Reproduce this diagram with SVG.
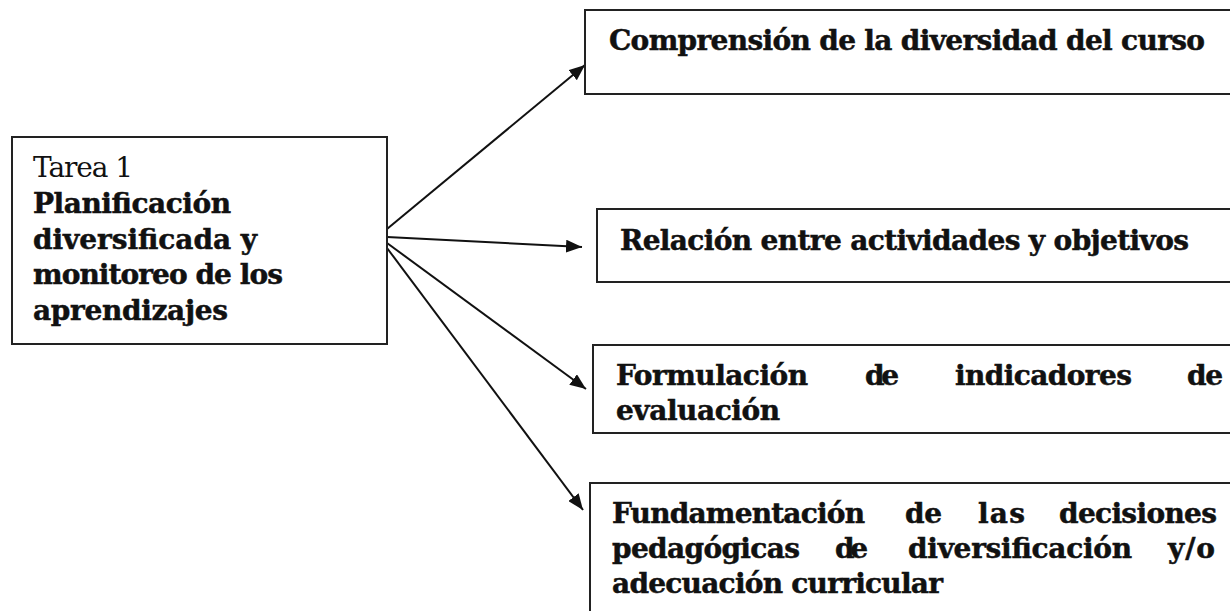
<svg xmlns="http://www.w3.org/2000/svg" width="1230" height="611" viewBox="0 0 1230 611">
<defs>
<style>
.box{fill:#fff;stroke:#222;stroke-width:2}
.t{font-family:"DejaVu Serif","Liberation Serif",serif;font-size:28px;fill:#111}
.b{font-weight:bold;stroke:#111;stroke-width:0.5}
.c{stroke:#111;stroke-width:2;fill:none}
</style>
<marker id="ah" markerUnits="userSpaceOnUse" markerWidth="16" markerHeight="13" refX="16" refY="6.5" orient="auto" viewBox="0 0 16 13">
<path d="M0,0 L16,6.5 L0,13 z" fill="#111"/>
</marker>
</defs>
<rect width="1230" height="611" fill="#fff"/>
<g id="connectors">
<line class="c" x1="387" y1="229" x2="585" y2="65" marker-end="url(#ah)"/>
<line class="c" x1="387" y1="237" x2="582" y2="247" marker-end="url(#ah)"/>
<line class="c" x1="387" y1="243" x2="586" y2="389" marker-end="url(#ah)"/>
<line class="c" x1="387" y1="248" x2="583" y2="510" marker-end="url(#ah)"/>
</g>
<g id="tarea1">
<rect class="box" x="12" y="137" width="375" height="207"/>
<text class="t" x="33" y="177" textLength="100">Tarea 1</text>
<text class="t b" x="33" y="213" textLength="198">Planificación</text>
<text class="t b" x="33" y="249" textLength="224">diversificada y</text>
<text class="t b" x="33" y="284" textLength="250">monitoreo de los</text>
<text class="t b" x="33" y="320" textLength="195">aprendizajes</text>
</g>
<g id="comprension">
<rect class="box" x="585" y="10" width="660" height="84"/>
<text class="t b" x="609" y="50" textLength="596">Comprensión de la diversidad del curso</text>
</g>
<g id="relacion">
<rect class="box" x="597" y="209" width="650" height="73"/>
<text class="t b" x="620" y="250" textLength="569">Relación entre actividades y objetivos</text>
</g>
<g id="formulacion">
<rect class="box" x="593" y="345" width="650" height="88"/>
<text class="t b" x="616" y="385" textLength="192">Formulación</text>
<text class="t b" x="865" y="385" textLength="34">de</text>
<text class="t b" x="955" y="385" textLength="177">indicadores</text>
<text class="t b" x="1187" y="385" textLength="36">de</text>
<text class="t b" x="616" y="420" textLength="164">evaluación</text>
</g>
<g id="fundamentacion">
<rect class="box" x="590" y="483" width="660" height="140"/>
<text class="t b" x="612" y="523" textLength="253">Fundamentación</text>
<text class="t b" x="905" y="523" textLength="37">de</text>
<text class="t b" x="978" y="523" textLength="47">las</text>
<text class="t b" x="1059" y="523" textLength="158">decisiones</text>
<text class="t b" x="612" y="558" textLength="188">pedagógicas</text>
<text class="t b" x="835" y="558" textLength="33">de</text>
<text class="t b" x="908" y="558" textLength="224">diversificación</text>
<text class="t b" x="1168" y="558" textLength="47">y/o</text>
<text class="t b" x="612" y="593" textLength="331">adecuación curricular</text>
</g>
</svg>
